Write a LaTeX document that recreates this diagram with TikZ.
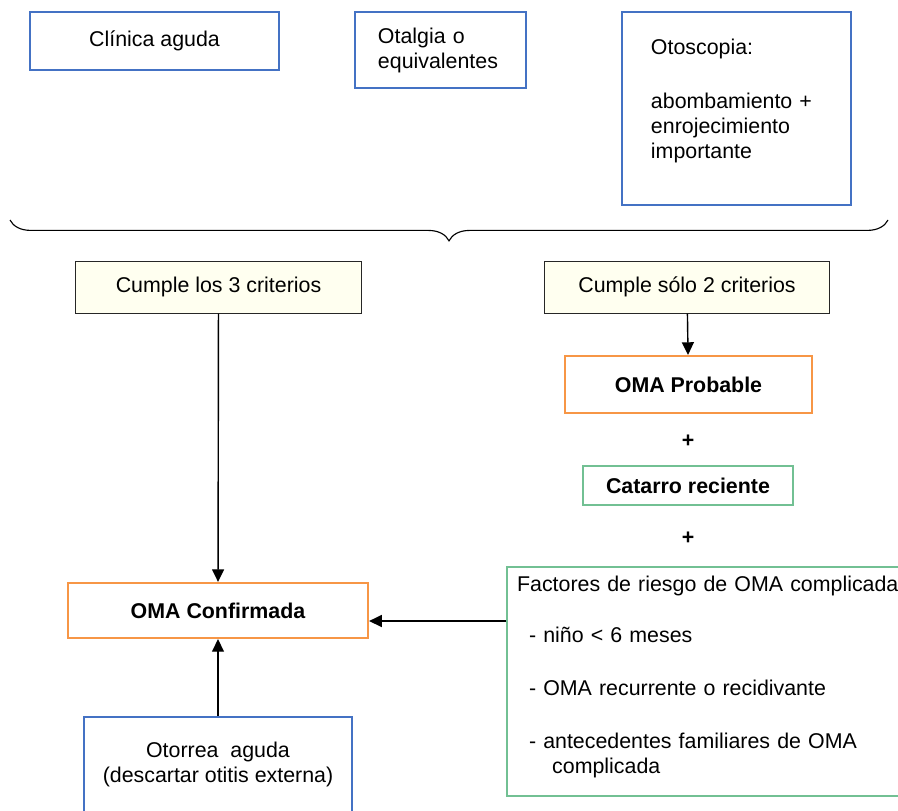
\documentclass[tikz,border=0pt]{standalone}
\usepackage{fontspec}
\setmainfont{Liberation Sans}
\usepackage{xcolor}
\usepackage{tikz}
\usetikzlibrary{arrows.meta,decorations.pathreplacing}

\definecolor{azulcaja}{HTML}{4472C4}
\definecolor{naranjacaja}{HTML}{F79646}
\definecolor{verdecaja}{HTML}{72C093}
\definecolor{amarillofondo}{HTML}{FFFFF0}

\begin{document}
\begin{tikzpicture}[x=0.025cm, y=-0.025cm,
        every node/.style={font=\fontsize{15.2}{17.8}\selectfont},
        criterio/.style={rectangle, draw=azulcaja, line width=1.5pt},
        cumple/.style={rectangle, draw=black!85, fill=amarillofondo, line width=0.7pt, minimum height=1.3cm, inner sep=0pt},
        oma/.style={rectangle, draw=naranjacaja, line width=1.5pt, inner sep=0pt, font=\fontsize{15.2}{17.8}\selectfont\bfseries},
        factor/.style={rectangle, draw=verdecaja, line width=1.5pt},
        signo/.style={font=\fontsize{15.2}{17.8}\selectfont\bfseries},
        flecha/.style={-{Triangle[length=9pt,width=8.5pt]}, line width=1pt}]
        \useasboundingbox (0,0) rectangle (898,810);
        \clip (0,0) rectangle (898,810);

        % criterios diagnosticos
        \node (clinica) [criterio, minimum width=6.225cm, minimum height=1.45cm, inner sep=0pt] at (154.5,41) {Clínica aguda};
        \node (otalgia) [criterio, text width=3.125cm, inner xsep=0.575cm, minimum height=1.9cm, align=left] at (440.5,50) {Otalgia o\\equivalentes};
        \node (otoscopia) [criterio, text width=4.275cm, inner xsep=0.725cm, minimum height=4.825cm, align=left] at (736.5,108.5) {Otoscopia:\\[20.6pt]abombamiento +\\enrojecimiento\\importante\\[-3.6pt]\mbox{}};

        \coordinate (llaveDer) at (888,220);
        \coordinate (llaveIzq) at (10,220);
        \draw[decorate, decoration={brace, amplitude=0.52cm}, line width=0.8pt] (llaveDer) -- (llaveIzq);

        \node (cumple3) [cumple, minimum width=7.125cm] at (218.5,287) {Cumple los 3 criterios};
        \node (cumple2) [cumple, minimum width=7.1cm] at (687,287) {Cumple sólo 2 criterios};

        \node (probable) [oma, minimum width=6.175cm, minimum height=1.425cm] at (688.5,384.5) {OMA Probable};
        \node (mas1) [signo] at (688,441) {+};
        \node (catarro) [factor, minimum width=5.25cm, minimum height=0.975cm, inner sep=0pt, font=\fontsize{15.2}{17.8}\selectfont\bfseries] at (688,485.5) {Catarro reciente};
        \node (mas2) [signo] at (688,538) {+};

        \node (factores) [factor, anchor=north west, text width=10.5cm, inner xsep=0.25cm, minimum height=5.725cm, align=left] at (506,566) {Factores de riesgo de OMA complicada\\[18.5pt]
            \hspace*{8.5pt}- niño < 6 meses\\[19.9pt]
            \hspace*{8.5pt}- OMA recurrente o recidivante\\[19.9pt]
            \hspace*{8.5pt}- antecedentes familiares de OMA\\
            \hspace*{25pt}complicada\\[-8pt]\mbox{}};

        \node (confirmada) [oma, minimum width=7.5cm, minimum height=1.375cm] at (218,610.5) {OMA Confirmada};
        \node (otorrea) [criterio, minimum width=6.7cm, minimum height=2.375cm, inner sep=0pt, align=center] at (218,764.5) {Otorrea\ \ aguda\\(descartar otitis externa)};

        \coordinate (nivel) at (0,621);
        \draw[flecha] (cumple3) -- (confirmada);
        \draw[flecha] (cumple2) -- (probable);
        \draw[flecha] (factores.west |- nivel) -- (confirmada.east |- nivel);
        \draw[flecha] (otorrea) -- (confirmada);
    \end{tikzpicture}
\end{document}
